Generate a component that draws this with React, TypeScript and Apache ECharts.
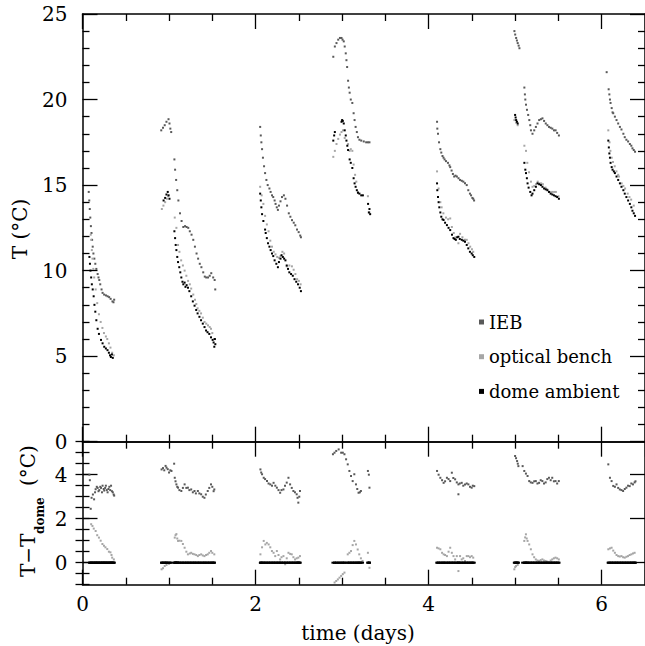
import React, { useEffect, useRef } from "react";
import * as echarts from "echarts";

const FONT = "'DejaVu Serif', serif";

const seriesNames = ["IEB", "optical bench", "dome ambient"];
const xTickLabels = [0, 2, 4, 6];
const diffTickLabels = [0, 2, 4];

// Top panel: temperature (deg C) vs time (days)
const iebTop = [
  [0.072,14.6],[0.078,14.1],[0.084,13.6],[0.09,13.1],[0.097,12.6],[0.104,12.2],[0.111,11.8],[0.118,11.4],[0.126,11.0],[0.137,10.7],[0.148,10.4],[0.16,10.1],[0.175,9.8],[0.185,9.6],[0.194,9.45],[0.205,9.2],[0.22,8.9],[0.232,8.7],[0.25,8.6],[0.271,8.55],[0.29,8.5],[0.308,8.45],[0.325,8.35],[0.346,8.2],[0.358,8.15],[0.366,8.3],
  [0.91,18.2],[0.93,18.35],[0.95,18.5],[0.97,18.7],[0.994,18.85],[1.005,18.6],[1.015,18.3],[1.025,18.1],[1.062,16.5],[1.07,15.9],[1.082,15.3],[1.095,14.7],[1.108,14.1],[1.127,13.35],[1.145,12.9],[1.165,12.55],[1.185,12.6],[1.203,12.55],[1.222,12.5],[1.24,12.3],[1.26,12.1],[1.28,11.8],[1.299,11.4],[1.318,11.0],[1.336,10.7],[1.355,10.4],[1.374,10.2],[1.395,9.9],[1.413,9.65],[1.43,9.6],[1.451,9.6],[1.47,9.7],[1.488,9.85],[1.51,9.6],[1.527,9.45],[1.534,8.9],
  [2.053,18.4],[2.06,17.9],[2.067,17.5],[2.075,17.1],[2.085,16.6],[2.098,16.1],[2.11,15.7],[2.125,15.3],[2.14,15.0],[2.16,14.8],[2.174,14.6],[2.19,14.4],[2.204,14.3],[2.22,14.1],[2.231,13.9],[2.245,13.7],[2.258,13.55],[2.27,13.8],[2.288,14.05],[2.305,14.3],[2.327,14.4],[2.345,14.2],[2.364,13.8],[2.384,13.35],[2.402,13.15],[2.421,12.95],[2.441,12.8],[2.459,12.65],[2.479,12.4],[2.498,12.25],[2.516,12.05],[2.524,11.95],
  [2.898,22.5],[2.916,23.1],[2.935,23.3],[2.955,23.5],[2.975,23.6],[2.993,23.6],[3.005,23.5],[3.019,23.4],[3.03,23.1],[3.042,22.7],[3.05,22.3],[3.058,21.9],[3.069,21.1],[3.078,20.7],[3.087,20.4],[3.1,20.0],[3.118,19.8],[3.133,19.2],[3.144,18.8],[3.156,18.4],[3.17,18.1],[3.183,17.8],[3.2,17.65],[3.221,17.6],[3.25,17.55],[3.278,17.5],[3.298,17.5],[3.316,17.5],
  [4.097,18.7],[4.1,18.3],[4.108,18.0],[4.12,17.5],[4.135,17.1],[4.146,16.9],[4.16,16.7],[4.172,16.6],[4.184,16.5],[4.2,16.4],[4.223,16.3],[4.24,16.15],[4.249,16.05],[4.265,15.85],[4.28,15.65],[4.295,15.5],[4.31,15.55],[4.326,15.5],[4.345,15.4],[4.363,15.3],[4.383,15.25],[4.401,15.2],[4.42,15.1],[4.44,15.0],[4.458,14.7],[4.477,14.5],[4.49,14.4],[4.505,14.25],[4.515,14.2],[4.525,14.1],
  [4.991,24.0],[5.0,23.8],[5.011,23.6],[5.02,23.45],[5.029,23.3],[5.04,23.15],[5.049,23.0],[5.106,20.7],[5.112,20.3],[5.117,20.0],[5.125,19.7],[5.136,19.4],[5.15,19.1],[5.163,18.8],[5.174,18.5],[5.182,18.2],[5.2,18.0],[5.22,18.2],[5.239,18.4],[5.258,18.6],[5.277,18.8],[5.297,18.85],[5.315,18.9],[5.334,18.75],[5.353,18.6],[5.372,18.5],[5.391,18.4],[5.41,18.35],[5.429,18.3],[5.448,18.2],[5.467,18.2],[5.485,18.05],[5.505,17.9],
  [6.057,21.6],[6.08,20.6],[6.088,20.3],[6.095,20.0],[6.102,19.8],[6.115,19.5],[6.125,19.25],[6.133,19.2],[6.152,19.0],[6.171,18.8],[6.19,18.6],[6.21,18.4],[6.228,18.25],[6.25,18.0],[6.266,17.8],[6.285,17.65],[6.305,17.55],[6.325,17.4],[6.342,17.3],[6.355,17.15],[6.37,17.05],[6.385,16.95],
];

const benchTop = [
  [0.095,12.1],[0.1,11.8],[0.108,11.2],[0.115,10.7],[0.125,10.1],[0.135,9.6],[0.152,8.9],[0.17,8.1],[0.19,7.45],[0.21,7.0],[0.23,6.65],[0.248,6.35],[0.27,6.15],[0.286,6.0],[0.305,5.75],[0.323,5.5],[0.343,5.2],[0.362,5.05],
  [0.917,13.6],[0.935,13.8],[0.955,14.0],[0.975,14.2],[0.99,14.35],[1.066,13.1],[1.085,12.5],[1.104,11.5],[1.12,11.1],[1.14,10.6],[1.16,10.3],[1.18,10.0],[1.2,9.7],[1.22,9.4],[1.24,9.2],[1.256,8.95],[1.28,8.6],[1.3,8.3],[1.315,8.05],[1.33,7.8],[1.35,7.65],[1.37,7.5],[1.39,7.25],[1.41,7.0],[1.43,6.9],[1.45,6.8],[1.47,6.7],[1.485,6.6],[1.5,6.35],[1.52,6.0],
  [2.053,14.9],[2.07,14.4],[2.09,13.9],[2.11,13.2],[2.13,12.7],[2.15,12.3],[2.17,11.75],[2.19,11.4],[2.21,11.1],[2.23,10.95],[2.25,10.8],[2.27,10.75],[2.288,10.85],[2.31,11.1],[2.33,11.0],[2.36,10.25],[2.39,10.3],[2.42,10.25],[2.44,10.05],[2.46,9.8],[2.48,9.5],[2.5,9.4],[2.52,9.2],
  [2.898,16.65],[2.916,17.0],[2.935,17.4],[2.955,17.7],[2.975,17.95],[2.993,18.1],[3.01,18.2],[3.03,17.75],[3.069,17.4],[3.087,17.0],[3.1,17.1],[3.118,17.0],[3.133,16.2],[3.15,15.6],[3.164,15.2],[3.183,14.6],[3.298,14.35],[3.316,13.4],
  [4.097,15.8],[4.115,14.8],[4.135,14.0],[4.15,13.7],[4.17,13.35],[4.2,13.1],[4.225,13.0],[4.249,13.05],[4.268,12.55],[4.29,12.2],[4.31,11.95],[4.344,11.6],[4.363,12.15],[4.39,11.95],[4.42,11.8],[4.44,11.8],[4.46,11.6],[4.48,11.4],[4.5,11.25],[4.515,11.1],
  [4.991,18.8],[5.011,18.65],[5.029,18.5],[5.106,17.3],[5.125,17.0],[5.14,16.3],[5.16,15.75],[5.182,15.2],[5.2,14.9],[5.22,14.95],[5.24,15.05],[5.26,15.2],[5.28,15.1],[5.3,15.1],[5.32,15.05],[5.35,14.85],[5.37,14.75],[5.39,14.6],[5.41,14.6],[5.43,14.6],[5.45,14.6],[5.47,14.6],[5.5,14.35],
  [6.076,18.2],[6.09,17.5],[6.1,17.0],[6.115,16.6],[6.13,16.35],[6.15,16.1],[6.17,15.8],[6.19,15.6],[6.2,15.5],[6.23,15.1],[6.25,14.95],[6.27,14.8],[6.3,14.5],[6.32,14.3],[6.34,14.15],[6.37,13.8],
];

const domeTop = [
  [0.08,10.8],[0.086,10.4],[0.092,10.0],[0.1,9.6],[0.108,9.2],[0.118,8.9],[0.129,8.5],[0.138,8.0],[0.148,7.6],[0.16,7.1],[0.175,6.6],[0.19,6.3],[0.214,5.95],[0.232,5.75],[0.251,5.55],[0.27,5.45],[0.289,5.35],[0.305,5.2],[0.318,5.05],[0.328,4.95],[0.34,5.1],[0.35,4.9],
  [0.937,14.1],[0.955,14.25],[0.97,14.45],[0.985,14.6],[0.995,14.4],[1.005,14.2],[1.062,12.3],[1.07,11.9],[1.077,11.5],[1.085,11.2],[1.095,10.8],[1.104,10.5],[1.118,10.2],[1.13,9.9],[1.142,9.6],[1.155,9.35],[1.165,9.2],[1.18,9.3],[1.19,9.05],[1.203,9.15],[1.219,9.0],[1.235,8.8],[1.256,8.5],[1.275,8.2],[1.295,7.95],[1.314,7.7],[1.33,7.5],[1.351,7.3],[1.37,7.1],[1.39,6.9],[1.41,6.7],[1.428,6.5],[1.445,6.4],[1.465,6.3],[1.485,6.1],[1.504,5.95],[1.515,5.8],[1.523,5.55],[1.53,6.0],[1.535,5.7],
  [2.053,14.5],[2.06,14.1],[2.067,13.7],[2.075,13.3],[2.09,12.9],[2.11,12.4],[2.117,12.2],[2.13,11.9],[2.144,11.6],[2.16,11.4],[2.174,11.2],[2.19,11.0],[2.204,10.85],[2.22,10.6],[2.24,10.4],[2.258,10.2],[2.27,10.5],[2.288,10.7],[2.3,10.9],[2.315,10.8],[2.33,10.7],[2.345,10.6],[2.36,10.3],[2.375,10.1],[2.39,9.9],[2.41,9.8],[2.43,9.7],[2.45,9.5],[2.47,9.35],[2.49,9.2],[2.51,9.0],[2.524,8.8],
  [2.898,17.6],[2.908,17.9],[2.916,18.1],[2.993,18.7],[3.0,18.8],[3.008,18.75],[3.019,18.6],[3.03,18.2],[3.042,17.9],[3.05,17.6],[3.06,17.3],[3.069,17.05],[3.087,16.5],[3.1,16.3],[3.118,16.0],[3.133,15.4],[3.144,15.1],[3.156,14.9],[3.17,14.7],[3.183,14.55],[3.2,14.5],[3.221,14.4],[3.24,14.4],[3.3,13.9],[3.309,13.4],[3.316,13.6],[3.324,13.3],
  [4.097,15.1],[4.1,14.7],[4.108,14.3],[4.115,14.0],[4.123,13.7],[4.135,13.4],[4.146,13.15],[4.16,13.0],[4.172,12.96],[4.19,12.8],[4.211,12.66],[4.23,12.5],[4.249,12.37],[4.27,12.1],[4.287,11.9],[4.3,11.85],[4.314,11.8],[4.33,11.95],[4.344,11.98],[4.36,11.85],[4.383,11.8],[4.401,11.75],[4.42,11.69],[4.44,11.5],[4.458,11.3],[4.477,11.1],[4.497,11.0],[4.51,10.9],[4.527,10.8],
  [4.999,19.1],[5.005,18.95],[5.011,18.8],[5.02,18.7],[5.029,18.6],[5.106,16.3],[5.117,15.9],[5.125,15.7],[5.135,15.4],[5.143,15.1],[5.155,14.85],[5.174,14.6],[5.189,14.4],[5.2,14.5],[5.22,14.7],[5.239,14.9],[5.258,15.1],[5.277,15.05],[5.297,15.0],[5.315,14.9],[5.334,14.8],[5.353,14.75],[5.372,14.7],[5.391,14.6],[5.41,14.5],[5.429,14.45],[5.448,14.4],[5.467,14.35],[5.485,14.3],[5.505,14.2],
  [6.076,17.6],[6.082,17.2],[6.088,16.85],[6.095,16.6],[6.102,16.3],[6.115,16.05],[6.125,15.9],[6.14,15.8],[6.152,15.7],[6.171,15.5],[6.19,15.3],[6.21,15.1],[6.228,14.9],[6.25,14.7],[6.266,14.5],[6.285,14.3],[6.305,14.1],[6.325,13.9],[6.342,13.7],[6.355,13.5],[6.37,13.35],[6.385,13.2],
];

// Bottom panel: T - T_dome (deg C)
const iebDiff = [
  [0.08,4.0],[0.085,3.75],[0.095,2.45],[0.105,2.95],[0.12,3.1],[0.134,2.88],[0.145,3.2],[0.152,3.34],[0.165,3.45],[0.175,3.4],[0.185,3.25],[0.194,3.3],[0.205,3.45],[0.214,3.4],[0.225,3.2],[0.232,3.5],[0.245,3.35],[0.251,3.28],[0.262,3.4],[0.27,3.5],[0.28,3.3],[0.29,3.2],[0.3,3.35],[0.31,3.45],[0.32,3.3],[0.33,3.5],[0.34,3.25],[0.35,3.2],[0.36,3.1],[0.366,3.05],
  [0.914,4.24],[0.93,4.3],[0.945,4.2],[0.96,4.4],[0.971,4.32],[0.985,4.25],[1.0,4.1],[1.015,4.2],[1.028,4.17],[1.059,4.5],[1.066,3.86],[1.075,3.7],[1.085,3.56],[1.095,3.45],[1.104,3.41],[1.12,3.3],[1.142,3.26],[1.16,3.4],[1.18,3.56],[1.2,3.4],[1.218,3.41],[1.235,3.3],[1.256,3.33],[1.275,3.2],[1.294,3.26],[1.31,3.15],[1.333,3.26],[1.35,3.15],[1.371,3.11],[1.39,3.0],[1.409,2.95],[1.425,3.1],[1.447,3.26],[1.465,3.4],[1.485,3.56],[1.5,3.45],[1.515,3.25],[1.523,3.33],
  [2.056,4.24],[2.065,4.1],[2.075,4.02],[2.094,3.86],[2.11,3.8],[2.132,3.71],[2.15,3.6],[2.17,3.56],[2.19,3.5],[2.208,3.63],[2.228,3.5],[2.246,3.41],[2.265,3.3],[2.284,3.18],[2.3,3.3],[2.322,3.33],[2.34,3.5],[2.36,3.64],[2.38,3.86],[2.399,3.56],[2.418,3.4],[2.437,3.26],[2.455,3.2],[2.475,3.11],[2.485,2.95],[2.494,2.73],[2.505,3.0],[2.513,3.26],
  [2.894,4.93],[2.912,5.0],[2.932,5.08],[2.96,5.15],[2.989,5.0],[3.008,5.0],[3.027,4.93],[3.046,4.7],[3.065,4.47],[3.084,4.17],[3.103,3.94],[3.122,3.71],[3.141,4.02],[3.16,3.56],[3.175,3.35],[3.19,3.18],[3.205,3.2],[3.217,3.26],[3.298,4.17],[3.309,4.0],[3.316,3.41],
  [4.097,4.17],[4.115,4.0],[4.135,3.86],[4.155,3.75],[4.173,3.63],[4.19,3.7],[4.211,3.86],[4.23,3.8],[4.249,3.71],[4.268,4.09],[4.285,3.85],[4.306,3.79],[4.325,3.65],[4.344,3.56],[4.344,3.11],[4.36,3.6],[4.382,3.63],[4.4,3.5],[4.42,3.56],[4.44,3.6],[4.459,3.56],[4.478,3.45],[4.497,3.41],[4.51,3.5],[4.527,3.48],
  [4.999,4.85],[5.01,4.75],[5.022,4.62],[5.03,4.5],[5.037,4.39],[5.086,4.39],[5.105,4.17],[5.124,4.05],[5.143,3.94],[5.162,3.71],[5.18,3.65],[5.2,3.63],[5.22,3.7],[5.238,3.71],[5.257,3.6],[5.276,3.63],[5.295,3.75],[5.314,3.71],[5.333,3.6],[5.352,3.65],[5.371,3.8],[5.39,3.86],[5.41,3.75],[5.428,3.86],[5.447,3.7],[5.466,3.71],[5.485,3.6],[5.504,3.71],
  [6.076,4.47],[6.095,3.86],[6.114,3.71],[6.133,3.49],[6.152,3.45],[6.171,3.56],[6.19,3.4],[6.209,3.33],[6.228,3.3],[6.247,3.26],[6.266,3.35],[6.285,3.41],[6.304,3.5],[6.323,3.48],[6.342,3.6],[6.361,3.56],[6.38,3.65],[6.39,3.7],
];

const benchDiff = [
  [0.1,1.75],[0.115,1.67],[0.13,1.55],[0.152,1.44],[0.17,1.25],[0.19,1.14],[0.21,1.0],[0.23,0.85],[0.248,0.77],[0.265,0.7],[0.286,0.62],[0.305,0.5],[0.323,0.47],[0.335,0.35],[0.343,0.23],[0.362,0.15],
  [0.914,-0.3],[0.93,-0.25],[0.95,-0.15],[0.971,-0.1],[1.0,-0.05],[1.066,1.14],[1.075,1.25],[1.085,1.3],[1.095,1.1],[1.104,0.99],[1.12,1.0],[1.142,0.99],[1.16,0.85],[1.18,0.68],[1.2,0.5],[1.218,0.38],[1.24,0.42],[1.256,0.45],[1.275,0.4],[1.294,0.38],[1.314,0.35],[1.333,0.3],[1.35,0.35],[1.371,0.38],[1.39,0.33],[1.409,0.3],[1.428,0.35],[1.447,0.38],[1.465,0.45],[1.485,0.53],[1.5,0.45],[1.523,0.38],
  [2.056,0.38],[2.075,0.7],[2.094,0.99],[2.113,0.83],[2.13,0.9],[2.151,0.83],[2.17,0.7],[2.189,0.53],[2.208,0.45],[2.227,0.3],[2.246,0.53],[2.265,0.35],[2.284,0.15],[2.3,0.25],[2.322,0.3],[2.342,-0.07],[2.36,0.2],[2.38,0.45],[2.4,0.4],[2.418,0.38],[2.437,0.25],[2.456,0.15],[2.475,0.2],[2.494,0.23],[2.513,0.3],
  [2.913,-0.9],[2.932,-0.83],[2.951,-0.76],[2.97,-0.68],[2.989,-0.6],[3.008,-0.52],[3.027,-0.45],[3.065,0.38],[3.084,0.45],[3.103,0.53],[3.122,0.8],[3.141,0.99],[3.16,0.83],[3.18,0.6],[3.198,0.38],[3.217,0.2],[3.236,0.08],[3.298,0.45],[3.316,-0.23],
  [4.097,0.68],[4.115,0.65],[4.135,0.61],[4.155,0.45],[4.173,0.38],[4.19,0.35],[4.211,0.3],[4.23,0.5],[4.249,0.68],[4.268,0.45],[4.287,0.3],[4.306,0.15],[4.325,0.3],[4.344,-0.38],[4.363,0.3],[4.382,0.15],[4.4,0.2],[4.42,0.08],[4.44,0.3],[4.459,0.3],[4.478,0.25],[4.497,0.3],[4.515,0.23],
  [4.99,-0.3],[5.0,-0.2],[5.01,-0.15],[5.029,-0.1],[5.105,0.99],[5.115,1.15],[5.124,1.29],[5.133,1.1],[5.143,0.99],[5.162,0.83],[5.181,0.61],[5.2,0.38],[5.219,0.25],[5.238,0.15],[5.257,0.1],[5.276,0.08],[5.295,0.12],[5.314,0.15],[5.333,0.1],[5.352,0.08],[5.371,0.05],[5.39,0.0],[5.41,0.1],[5.428,0.15],[5.447,0.2],[5.466,0.23],[5.485,0.2],[5.504,0.15],
  [6.076,0.61],[6.095,0.65],[6.114,0.68],[6.133,0.55],[6.152,0.45],[6.171,0.35],[6.19,0.3],[6.209,0.28],[6.228,0.3],[6.247,0.25],[6.266,0.23],[6.285,0.27],[6.304,0.3],[6.323,0.35],[6.342,0.38],[6.361,0.42],[6.38,0.45],
];

// dome minus dome is identically zero at every sampled time
const domeDiff = [...iebDiff, ...benchDiff].map(([t]) => [t, 0]);

const COLORS = ["#595959", "#a6a6a6", "#000000"];

export default function App() {
  const ref = useRef<HTMLDivElement>(null);

  useEffect(() => {
    const chart = echarts.init(ref.current as HTMLDivElement, null, { renderer: "svg" });

    const L = 82.5;
    const W = 568;
    const topT = 14;
    const topH = 427.7;
    const botT = topT + topH;
    const botH = 143;

    const lineStyle = { color: "#000", width: 1.5 };
    const xBase = (gridIndex: number, position: string, showLabel: boolean) => ({
      type: "value",
      gridIndex,
      position,
      min: 0,
      max: 6.5,
      interval: 2,
      axisLine: { show: true, onZero: false, lineStyle },
      axisTick: { show: true, inside: true, length: 15, lineStyle: { color: "#000", width: 1.3 } },
      minorTick: { show: true, splitNumber: 4, length: 7, lineStyle: { color: "#000", width: 1.3 } },
      splitLine: { show: false },
      minorSplitLine: { show: false },
      axisLabel: {
        show: showLabel,
        margin: 9,
        fontFamily: FONT,
        fontSize: 20,
        color: "#000",
        customValues: xTickLabels,
      },
    });

    const yTop = (position: string, showLabel: boolean) => ({
      type: "value",
      gridIndex: 0,
      position,
      min: 0,
      max: 25,
      interval: 5,
      axisLine: { show: true, onZero: false, lineStyle },
      axisTick: { show: true, inside: true, length: 15, lineStyle: { color: "#000", width: 1.3 } },
      minorTick: { show: true, splitNumber: 5, length: 7, lineStyle: { color: "#000", width: 1.3 } },
      splitLine: { show: false },
      axisLabel: { show: showLabel, margin: 15, fontFamily: FONT, fontSize: 20, color: "#000" },
    });

    const yBotMajor = (position: string, showLabel: boolean) => ({
      type: "value",
      gridIndex: 1,
      position,
      min: -1,
      max: 5.5,
      axisLine: { show: true, onZero: false, lineStyle },
      axisTick: {
        show: true,
        inside: true,
        length: 15,
        customValues: diffTickLabels,
        lineStyle: { color: "#000", width: 1.3 },
      },
      splitLine: { show: false },
      axisLabel: {
        show: showLabel,
        margin: 15,
        fontFamily: FONT,
        fontSize: 20,
        color: "#000",
        customValues: diffTickLabels,
      },
    });

    const yBotMinor = (position: string) => ({
      type: "value",
      gridIndex: 1,
      position,
      min: -1,
      max: 5.5,
      interval: 0.5,
      axisLine: { show: false },
      axisTick: { show: true, inside: true, length: 7, lineStyle: { color: "#000", width: 1.3 } },
      splitLine: { show: false },
      axisLabel: { show: false },
    });

    const scatter = (name: string, data: number[][], xi: number, yi: number, color: string, size: any = 2) => ({
      type: "scatter",
      name,
      xAxisIndex: xi,
      yAxisIndex: yi,
      data,
      symbol: "rect",
      symbolSize: size,
      itemStyle: { color, opacity: 1 },
      silent: true,
      clip: true,
    });

    const option: any = {
      animation: false,
      backgroundColor: "#ffffff",
      grid: [
        { left: L, top: topT, width: W, height: topH },
        { left: L, top: botT, width: W, height: botH },
      ],
      xAxis: [xBase(0, "bottom", false), xBase(0, "top", false), xBase(1, "bottom", true), xBase(1, "top", false)],
      yAxis: [
        yTop("left", true),
        yTop("right", false),
        yBotMajor("left", true),
        yBotMajor("right", false),
        yBotMinor("left"),
        yBotMinor("right"),
      ],
      legend: {
        data: seriesNames,
        orient: "vertical",
        left: 474,
        top: 308,
        itemWidth: 5,
        itemHeight: 5,
        itemGap: 16.7,
        icon: "rect",
        selectedMode: false,
        textStyle: { fontFamily: FONT, fontSize: 18, color: "#000", lineHeight: 18 },
      },
      series: [
        scatter(seriesNames[0], iebTop, 0, 0, COLORS[0]),
        scatter(seriesNames[1], benchTop, 0, 0, COLORS[1]),
        scatter(seriesNames[2], domeTop, 0, 0, COLORS[2]),
        scatter(seriesNames[0], iebDiff, 2, 2, COLORS[0]),
        scatter(seriesNames[1], benchDiff, 2, 2, COLORS[1]),
        scatter(seriesNames[2], domeDiff, 2, 2, COLORS[2], [3, 2]),
      ],
      graphic: [
        {
          type: "text",
          x: 20,
          y: 229,
          rotation: Math.PI / 2,
          style: { text: "T (°C)", font: `20px ${FONT}`, fill: "#000", textAlign: "center", textVerticalAlign: "middle", align: "center", verticalAlign: "middle" },
        },
        {
          type: "text",
          x: 28,
          y: 577,
          rotation: Math.PI / 2,
          style: { text: "T−T", font: `20px ${FONT}`, fill: "#000", textAlign: "left", textVerticalAlign: "middle", align: "left", verticalAlign: "middle" },
        },
        {
          type: "text",
          x: 40,
          y: 534,
          rotation: Math.PI / 2,
          style: { text: "dome", font: `bold 12px ${FONT}`, fill: "#000", textAlign: "left", textVerticalAlign: "middle", align: "left", verticalAlign: "middle" },
        },
        {
          type: "text",
          x: 28,
          y: 486,
          rotation: Math.PI / 2,
          style: { text: "(°C)", font: `20px ${FONT}`, fill: "#000", textAlign: "left", textVerticalAlign: "middle", align: "left", verticalAlign: "middle" },
        },
        {
          type: "text",
          x: 358,
          y: 633,
          style: { text: "time (days)", font: `20px ${FONT}`, fill: "#000", textAlign: "center", textVerticalAlign: "middle", align: "center", verticalAlign: "middle" },
        },
      ],
    };

    chart.setOption(option);
    return () => chart.dispose();
  }, []);

  return (
    <div
      ref={ref}
      style={{ position: "fixed", left: 0, top: 0, width: 645, height: 646, background: "#fff" }}
    />
  );
}
